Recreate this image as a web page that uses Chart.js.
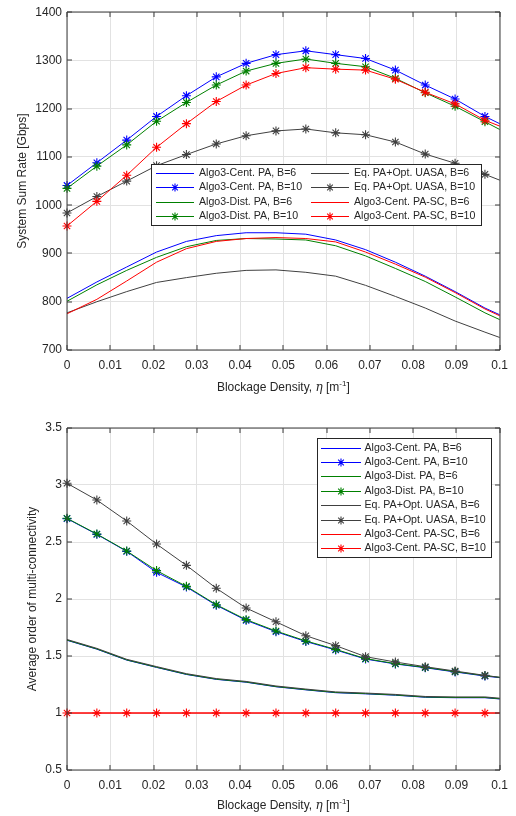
<!DOCTYPE html>
<html><head><meta charset="utf-8">
<script src="https://cdn.jsdelivr.net/npm/chart.js@4.4.0/dist/chart.umd.min.js"></script>
<style>
html,body{margin:0;padding:0;background:#fff;}
#wrap{position:relative;width:516px;height:816px;background:#fff;}
.c{position:absolute;left:0;width:516px;height:408px;}
</style></head><body>
<div id="wrap">
<div class="c" style="top:0"><canvas id="c1" width="516" height="408"></canvas></div>
<div class="c" style="top:408px"><canvas id="c2" width="516" height="408"></canvas></div>
</div>
<script>
// ---------------- DATA ----------------
const eta = [0, 0.0069, 0.0138, 0.0207, 0.0276, 0.0345, 0.0414, 0.0483, 0.0552, 0.0621, 0.0690, 0.0759, 0.0828, 0.0897, 0.0966, 0.1];

const seriesLabels = [
  'Algo3-Cent. PA, B=6', 'Algo3-Cent. PA, B=10',
  'Algo3-Dist. PA, B=6', 'Algo3-Dist. PA, B=10',
  'Eq. PA+Opt. UASA, B=6', 'Eq. PA+Opt. UASA, B=10',
  'Algo3-Cent. PA-SC, B=6', 'Algo3-Cent. PA-SC, B=10'
];

// System sum rate [Gbps]
const rateCentB6  = [807, 841, 872, 903, 925, 937, 943, 943, 940, 928, 908, 882, 853, 821, 787, 773];
const rateCentB10 = [1041, 1088, 1135, 1184, 1227, 1266, 1294, 1312, 1320, 1312, 1304, 1280, 1249, 1220, 1184, 1169];
const rateDistB6  = [801, 835, 865, 892, 914, 927, 931, 930, 928, 916, 895, 869, 842, 810, 777, 763];
const rateDistB10 = [1035, 1081, 1125, 1174, 1213, 1249, 1278, 1294, 1303, 1294, 1287, 1263, 1233, 1205, 1173, 1157];
const rateEqB6    = [777, 800, 821, 840, 850, 859, 865, 866, 861, 853, 834, 811, 787, 760, 737, 726];
const rateEqB10   = [984, 1018, 1050, 1082, 1105, 1127, 1144, 1154, 1158, 1150, 1146, 1131, 1106, 1087, 1064, 1052];
const rateScB6    = [775, 805, 843, 882, 910, 925, 931, 933, 931, 924, 903, 878, 851, 819, 785, 771];
const rateScB10   = [957, 1008, 1062, 1120, 1169, 1215, 1249, 1273, 1285, 1282, 1280, 1261, 1234, 1210, 1176, 1164];

// Average order of multi-connectivity
const mcCentB6  = [1.638, 1.560, 1.464, 1.400, 1.338, 1.295, 1.270, 1.230, 1.203, 1.178, 1.168, 1.156, 1.138, 1.134, 1.134, 1.123];
const mcCentB10 = [2.705, 2.567, 2.418, 2.234, 2.105, 1.945, 1.813, 1.713, 1.627, 1.553, 1.473, 1.430, 1.397, 1.360, 1.324, 1.310];
const mcDistB6  = [1.640, 1.562, 1.466, 1.402, 1.340, 1.297, 1.272, 1.232, 1.205, 1.180, 1.170, 1.158, 1.140, 1.136, 1.136, 1.125];
const mcDistB10 = [2.708, 2.570, 2.421, 2.249, 2.111, 1.950, 1.819, 1.719, 1.632, 1.558, 1.477, 1.433, 1.400, 1.363, 1.327, 1.313];
const mcEqB6    = [1.645, 1.567, 1.471, 1.407, 1.345, 1.302, 1.277, 1.237, 1.210, 1.185, 1.175, 1.163, 1.145, 1.141, 1.141, 1.130];
const mcEqB10   = [3.015, 2.868, 2.684, 2.482, 2.295, 2.094, 1.921, 1.800, 1.678, 1.591, 1.494, 1.447, 1.406, 1.368, 1.330, 1.313];
const mcScB6    = [1, 1, 1, 1, 1, 1, 1, 1, 1, 1, 1, 1, 1, 1, 1, 1];
const mcScB10   = [1, 1, 1, 1, 1, 1, 1, 1, 1, 1, 1, 1, 1, 1, 1, 1];

// Ticks
const xTickValues = [0, 0.01, 0.02, 0.03, 0.04, 0.05, 0.06, 0.07, 0.08, 0.09, 0.1];
const xTickLabels = ['0', '0.01', '0.02', '0.03', '0.04', '0.05', '0.06', '0.07', '0.08', '0.09', '0.1'];
const rateTickValues = [700, 800, 900, 1000, 1100, 1200, 1300, 1400];
const rateTickLabels = ['700', '800', '900', '1000', '1100', '1200', '1300', '1400'];
const mcTickValues = [0.5, 1, 1.5, 2, 2.5, 3, 3.5];
const mcTickLabels = ['0.5', '1', '1.5', '2', '2.5', '3', '3.5'];

const xTitleMain = 'Blockage Density, ';
const xTitleSym = 'η';
const xTitleUnit = ' [m';
const xTitleSup = '-1';
const xTitleEnd = ']';
const yTitleRate = 'System Sum Rate [Gbps]';
const yTitleMc = 'Average order of multi-connectivity';

// ---------------- STYLE ----------------
const FONT = "'Liberation Sans', Arial, Helvetica, sans-serif";
const TXT = '#262626';
const AXIS = '#3a3a3a';
const COLORS = ['#0000ff', '#0000ff', '#008000', '#008000', '#404040', '#404040', '#ff0000', '#ff0000'];
const HAS_MARKER = [false, true, false, true, false, true, false, true];

Chart.defaults.font.family = FONT;
Chart.defaults.font.size = 12;
Chart.defaults.color = TXT;

function buildDatasets(arrays) {
  const n = arrays.length;
  return arrays.map((arr, i) => ({
    label: seriesLabels[i],
    data: arr.map((v, k) => ({ x: eta[k], y: v })),
    borderColor: COLORS[i],
    backgroundColor: COLORS[i],
    borderWidth: 1,
    pointStyle: 'star',
    pointRadius: HAS_MARKER[i] ? arr.map((v, k) => (k < arr.length - 1 ? 4.5 : 0)) : 0,
    pointBorderWidth: 1.1,
    pointBorderColor: COLORS[i],
    tension: 0,
    clip: false,
    order: n - i
  }));
}

function drawStar(ctx, x, y, r, color) {
  ctx.save();
  ctx.strokeStyle = color; ctx.lineWidth = 1.1;
  ctx.beginPath();
  ctx.moveTo(x - r, y); ctx.lineTo(x + r, y);
  ctx.moveTo(x, y - r); ctx.lineTo(x, y + r);
  const d = r * Math.SQRT1_2;
  ctx.moveTo(x - d, y - d); ctx.lineTo(x + d, y + d);
  ctx.moveTo(x - d, y + d); ctx.lineTo(x + d, y - d);
  ctx.stroke();
  ctx.restore();
}

const matlabAxes = {
  id: 'matlabAxes',
  afterDatasetsDraw(chart, args, opts) {
    const { ctx, chartArea: a, scales } = chart;
    const x = scales.x, y = scales.y;
    ctx.save();
    ctx.strokeStyle = AXIS;
    ctx.lineWidth = 1;
    const L = Math.round(a.left), R = Math.round(a.right), T = Math.round(a.top), B = Math.round(a.bottom);
    ctx.beginPath();
    ctx.rect(L, T, R - L, B - T);
    const tl = 5;
    x.ticks.forEach(t => {
      const p = Math.round(x.getPixelForValue(t.value));
      ctx.moveTo(p, B); ctx.lineTo(p, B - tl);
      ctx.moveTo(p, T); ctx.lineTo(p, T + tl);
    });
    y.ticks.forEach(t => {
      const p = Math.round(y.getPixelForValue(t.value));
      ctx.moveTo(L, p); ctx.lineTo(L + tl, p);
      ctx.moveTo(R, p); ctx.lineTo(R - tl, p);
    });
    ctx.stroke();
    ctx.restore();
  },
  afterDraw(chart, args, opts) {
    const { ctx, chartArea: a } = chart;
    // x-axis title with italic eta and superscript
    const parts = [
      { t: xTitleMain, f: `12px ${FONT}`, dy: 0 },
      { t: xTitleSym, f: `italic 12px 'DejaVu Serif', 'Liberation Serif', serif`, dy: 0 },
      { t: xTitleUnit, f: `12px ${FONT}`, dy: 0 },
      { t: xTitleSup, f: `8px ${FONT}`, dy: -5 },
      { t: xTitleEnd, f: `12px ${FONT}`, dy: 0 }
    ];
    ctx.save();
    ctx.fillStyle = TXT;
    ctx.textBaseline = 'alphabetic';
    let w = 0;
    parts.forEach(p => { ctx.font = p.f; p.w = ctx.measureText(p.t).width; w += p.w; });
    let cx = (a.left + a.right) / 2 - w / 2;
    const by = opts.xTitleY;
    parts.forEach(p => { ctx.font = p.f; ctx.fillText(p.t, cx, by + p.dy); cx += p.w; });
    ctx.restore();

    // legend
    const lg = opts.legend;
    ctx.save();
    ctx.fillStyle = '#ffffff';
    ctx.fillRect(lg.x, lg.y, lg.w, lg.h);
    ctx.strokeStyle = TXT;
    ctx.lineWidth = 1;
    ctx.strokeRect(Math.round(lg.x) + 0.5, Math.round(lg.y) + 0.5, Math.round(lg.w), Math.round(lg.h));
    ctx.font = `10.6px ${FONT}`;
    ctx.textBaseline = 'middle';
    ctx.textAlign = 'left';
    chart.data.datasets.forEach((ds, i) => {
      const col = Math.floor(i / lg.rows), row = i % lg.rows;
      const x0 = Math.round(lg.x + lg.colX[col]);
      const yc = Math.round(lg.y + lg.firstRow + row * lg.rowH) + 0.5;
      ctx.strokeStyle = COLORS[i];
      ctx.lineWidth = 1;
      ctx.beginPath();
      ctx.moveTo(x0, yc);
      ctx.lineTo(x0 + lg.lineLen, yc);
      ctx.stroke();
      if (HAS_MARKER[i]) drawStar(ctx, x0 + lg.lineLen / 2, yc, 4, COLORS[i]);
      ctx.fillStyle = TXT;
      ctx.fillText(ds.label, x0 + lg.lineLen + lg.gap, yc);
    });
    ctx.restore();
  }
};

function makeChart(canvasId, arrays, yMin, yMax, yVals, yLabels, yTitle, yTitlePad, padTop, xH, xTitleY, legend) {
  return new Chart(document.getElementById(canvasId), {
    type: 'line',
    data: { datasets: buildDatasets(arrays) },
    options: {
      responsive: false,
      animation: false,
      devicePixelRatio: 1,
      layout: { padding: { left: 0, right: 14, top: padTop, bottom: 0 } },
      plugins: {
        legend: { display: false },
        tooltip: { enabled: false },
        matlabAxes: { xTitleY, legend }
      },
      scales: {
        x: {
          type: 'linear', min: 0, max: 0.1,
          afterBuildTicks: s => { s.ticks = xTickValues.map(v => ({ value: v })); },
          afterFit: s => { s.height = xH; },
          ticks: { autoSkip: false, maxRotation: 0, padding: 8, color: TXT, font: { size: 12 },
                   callback: (v, i) => xTickLabels[i] },
          grid: { color: '#e2e2e2', lineWidth: 1, drawTicks: false },
          border: { display: false }
        },
        y: {
          type: 'linear', min: yMin, max: yMax,
          afterBuildTicks: s => { s.ticks = yVals.map(v => ({ value: v })); },
          afterFit: s => { s.width = 67; },
          ticks: { autoSkip: false, padding: 5, color: TXT, font: { size: 12 },
                   callback: (v, i) => yLabels[i] },
          grid: { color: '#e2e2e2', lineWidth: 1, drawTicks: false },
          border: { display: false },
          title: { display: true, text: yTitle, color: TXT, font: { size: 12 }, padding: { top: yTitlePad, bottom: 0 } }
        }
      }
    },
    plugins: [matlabAxes]
  });
}

makeChart('c1',
  [rateCentB6, rateCentB10, rateDistB6, rateDistB10, rateEqB6, rateEqB10, rateScB6, rateScB10],
  700, 1400, rateTickValues, rateTickLabels, yTitleRate, 15, 7, 58, 391,
  { x: 151, y: 164, w: 330, h: 61, rows: 4, colX: [5, 160], firstRow: 9, rowH: 14.4, lineLen: 38, gap: 5 });

makeChart('c2',
  [mcCentB6, mcCentB10, mcDistB6, mcDistB10, mcEqB6, mcEqB10, mcScB6, mcScB10],
  0.5, 3.5, mcTickValues, mcTickLabels, yTitleMc, 25, 20, 46, 401,
  { x: 317, y: 30, w: 174, h: 119, rows: 8, colX: [4], firstRow: 9.5, rowH: 14.4, lineLen: 40, gap: 3.5 });
</script>
</body></html>
